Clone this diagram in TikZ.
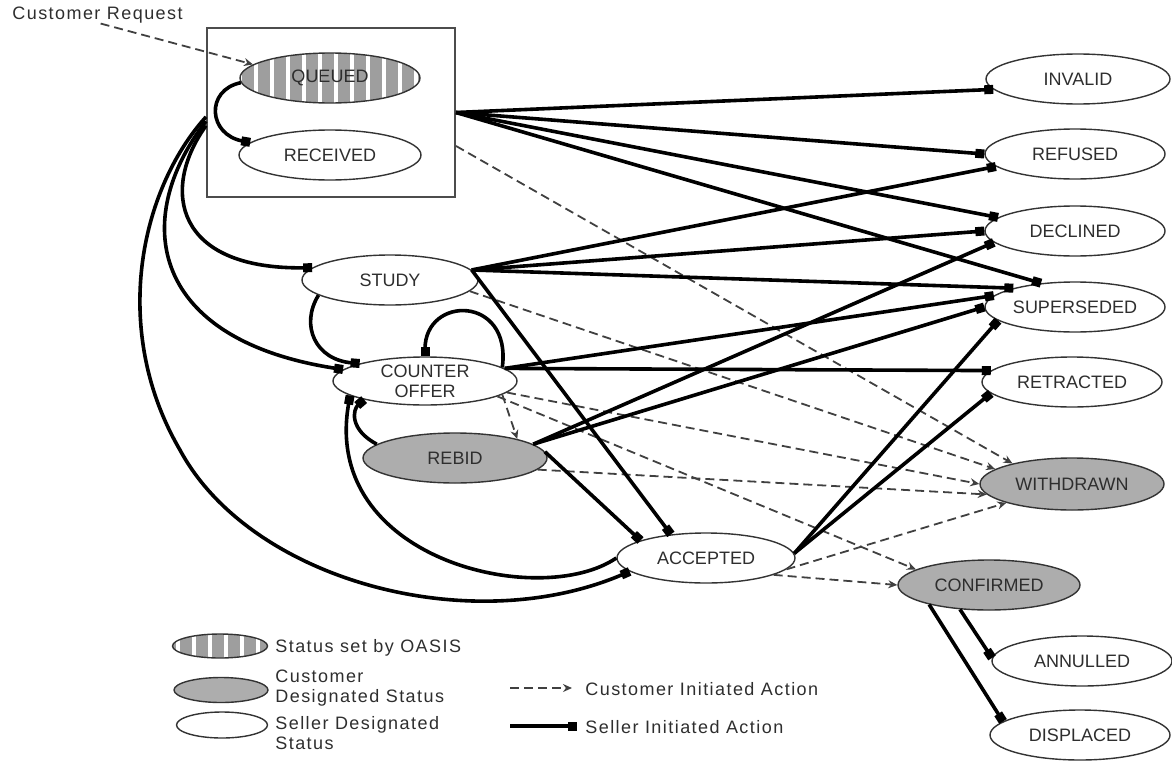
\documentclass[tikz,border=0pt]{standalone}
\usepackage{fontspec}
\setmainfont{Liberation Sans}
\newfontfamily\lsp{Liberation Sans}[LetterSpace=8]
\usetikzlibrary{arrows.meta,shapes.geometric,calc}
\definecolor{custgray}{gray}{0.68}
\definecolor{stripegray}{gray}{0.62}
\definecolor{inkgray}{gray}{0.18}
\tikzset{
  st/.style={ellipse, draw=black!80, line width=0.7pt, fill=white,
    minimum width=90pt, minimum height=25pt, inner sep=0pt,
    font=\fontsize{9}{10}\selectfont, text=inkgray, align=center},
  cst/.style={st, fill=custgray},
  stripes/.style={path picture={
      \fill[stripegray] (path picture bounding box.south west) rectangle (path picture bounding box.north east);
      \foreach \k in {-7,...,7}
        \draw[white, line width=2.4pt] ([xshift=\k*8pt+3pt]path picture bounding box.south) -- ([xshift=\k*8pt+3pt]path picture bounding box.north);}},
  oasis/.style={st, fill=none, stripes},
  seller/.style={line width=1.8pt, draw=black, -{Square[length=4.5pt,width=4.5pt]}},
  cust/.style={line width=0.9pt, draw=black!75, dash pattern=on 4.5pt off 2.5pt,
    -{Stealth[length=4.5pt,width=4pt]}},
  lbl/.style={font=\lsp\fontsize{9}{9.8}\selectfont, text=inkgray, inner sep=0pt, align=left},
}
\begin{document}
\begin{tikzpicture}[x=0.5pt,y=-0.5pt]
\useasboundingbox (0,0) rectangle (1172,760);

% frame around OASIS states
\node[draw=black!70, line width=1pt, minimum width=124pt, minimum height=84.5pt, inner sep=0pt] (box) at (331,112.5) {};

% states
\node[oasis] (queued) at (330,78) {QUEUED};
\node[st, minimum width=91pt] (received) at (330,155) {RECEIVED};
\node[st, minimum width=92pt] (invalid) at (1078,79) {INVALID};
\node[st] (refused) at (1075,154) {REFUSED};
\node[st] (declined) at (1075,231) {DECLINED};
\node[st] (superseded) at (1075,307) {SUPERSEDED};
\node[st] (retracted) at (1072,382) {RETRACTED};
\node[cst, minimum width=92pt, minimum height=26pt] (withdrawn) at (1072,484) {WITHDRAWN};
\node[cst, minimum width=91pt] (confirmed) at (989,585) {CONFIRMED};
\node[st] (annulled) at (1082,661) {ANNULLED};
\node[st] (displaced) at (1080,735) {DISPLACED};
\node[st, minimum width=88pt] (study) at (390,280) {STUDY};
\node[st, minimum width=92pt, minimum height=24pt, font=\fontsize{9}{10}\selectfont] (counter) at (425,381) {COUNTER\\OFFER};
\node[cst, minimum width=92pt] (rebid) at (455,458) {REBID};
\node[st, minimum width=89pt] (accepted) at (706,558) {ACCEPTED};

\node[lbl, anchor=west] (creq) at (12,15) {Customer Request};

% customer actions
\draw[cust] (creq.290) -- (queued.170);
\draw[cust] (box.345) -- (withdrawn.161);
\draw[cust] (study.352) -- (withdrawn.169);
\draw[cust] (counter.352) -- (withdrawn.180);
\draw[cust] (counter.348) -- (confirmed.168);
\draw[cust] (counter.350) -- (rebid.17);
\draw[cust] (rebid.352) -- (withdrawn.187);
\draw[cust] (accepted.352) -- (withdrawn.196);
\draw[cust] (accepted.346) -- (confirmed.180);

% seller actions
\draw[seller] (queued.183) .. controls (205,90) and (208,135) .. (received.171);
\draw[seller] (box.east) -- (invalid.187);
\draw[seller] (box.east) -- (refused.180);
\draw[seller] (box.east) -- (declined.170);
\draw[seller] (box.east) -- (superseded.145);
\draw[seller] (box.186) .. controls (160,190) and (175,270) .. (study.171);
\draw[seller] (box.184) .. controls (130,220) and (150,340) .. (counter.172);
\draw[seller] (box.182) .. controls (140,190) and (110,330) .. (180,450)
                       .. controls (250,580) and (470,640) .. (accepted.190);
\draw[seller] (study.7) -- (refused.189);
\draw[seller] (study.7) -- (declined.180);
\draw[seller] (study.7) -- (superseded.163);
\draw[seller] (study.7) -- (accepted.146);
\draw[seller] (study.192) .. controls (300,325) and (315,360) .. (counter.165);
\draw[seller] (counter.9) -- (superseded.172);
\draw[seller] (counter.9) -- (retracted.172);
\draw[seller] (counter.10) .. controls (512,295) and (425,295) .. (counter.90);
\draw[seller] (rebid.10) -- (declined.188);
\draw[seller] (rebid.10) -- (superseded.180);
\draw[seller] (rebid.4) -- (accepted.165);
\draw[seller] (rebid.170) .. controls (350,430) and (352,410) .. (counter.197);
\draw[seller] (accepted.3) -- (superseded.190);
\draw[seller] (accepted.3) -- (retracted.188);
\draw[seller] (accepted.180) .. controls (540,610) and (320,560) .. (counter.191);
\draw[seller] (confirmed.220) -- (annulled.178);
\draw[seller] (confirmed.198) -- (displaced.170);

% legend
\node[oasis, minimum width=47.5pt, minimum height=12pt] (legq) at (220,646) {};
\node[cst, minimum width=47pt, minimum height=12.5pt] (legc) at (221,690) {};
\node[st, minimum width=45.5pt, minimum height=13pt] (legs) at (222,725) {};
\node[lbl, anchor=west] (legqt) at (275,648) {Status set by OASIS};
\node[lbl, anchor=west] (legct) at (275,688) {Customer\\Designated Status};
\node[lbl, anchor=west] (legst) at (275,733) {Seller Designated\\Status};
\coordinate (lda) at (510,688);
\coordinate (ldb) at (572,688);
\coordinate (lsa) at (510,726);
\coordinate (lsb) at (577,726);
\draw[cust] (lda) -- (ldb);
\draw[seller] (lsa) -- (lsb);
\node[lbl, anchor=west] (ldt) at (585,689) {Customer Initiated Action};
\node[lbl, anchor=west] (lst) at (585,727) {Seller Initiated Action};
\end{tikzpicture}
\end{document}
